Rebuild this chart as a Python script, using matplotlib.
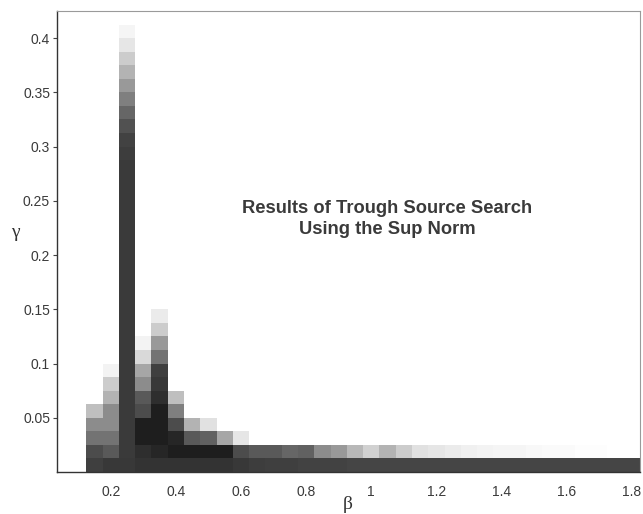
import numpy as np
import matplotlib
matplotlib.use("Agg")
import matplotlib.pyplot as plt

# bin layout (beta columns of width 0.05, gamma rows of height 0.0125)
beta_edges = np.round(np.arange(0.125, 1.8251, 0.05), 4)
gamma_edges = np.round(np.arange(0.0, 0.42501, 0.0125), 4)

# darkness of each cell (0 = white), read bottom-up per beta column
col_015 = [0.75, 0.70, 0.55, 0.45, 0.25]
col_020 = [0.78, 0.65, 0.55, 0.45, 0.45, 0.30, 0.20, 0.05]
col_025 = [0.78, 0.77, 0.77, 0.77, 0.77, 0.77, 0.77, 0.77, 0.77, 0.77,
           0.77, 0.77, 0.77, 0.77, 0.77, 0.77, 0.77, 0.77, 0.77, 0.77,
           0.77, 0.77, 0.77, 0.76, 0.74, 0.68, 0.60, 0.50, 0.40, 0.30,
           0.20, 0.10, 0.04]
col_030 = [0.80, 0.82, 0.88, 0.88, 0.70, 0.65, 0.45, 0.35, 0.15, 0.05]
col_035 = [0.80, 0.85, 0.88, 0.88, 0.88, 0.82, 0.78, 0.75, 0.55, 0.40,
           0.20, 0.08]
col_040 = [0.80, 0.88, 0.85, 0.70, 0.50, 0.25]
col_045 = [0.80, 0.88, 0.65, 0.30]
col_050 = [0.80, 0.88, 0.62, 0.12]
col_055 = [0.80, 0.88, 0.35]
col_060 = [0.78, 0.70, 0.10]
col_065 = [0.76, 0.65]
# long tail, beta = 0.70 ... 1.80
tail_row0 = [0.75, 0.75, 0.74, 0.74, 0.74, 0.73, 0.73, 0.73, 0.73, 0.73,
             0.73, 0.73, 0.73, 0.73, 0.73, 0.73, 0.73, 0.73, 0.73, 0.73,
             0.73, 0.73, 0.73]
tail_row1 = [0.65, 0.60, 0.62, 0.45, 0.40, 0.28, 0.18, 0.30, 0.20, 0.12,
             0.10, 0.08, 0.06, 0.05, 0.04, 0.04, 0.03, 0.02, 0.02, 0.01,
             0.01, 0.0, 0.0]

columns = [col_015, col_020, col_025, col_030, col_035, col_040,
           col_045, col_050, col_055, col_060, col_065]

Z = np.zeros((len(gamma_edges) - 1, len(beta_edges) - 1))
for j, col in enumerate(columns):
    Z[:len(col), j] = col
n0 = len(columns)
Z[0, n0:n0 + len(tail_row0)] = tail_row0
Z[1, n0:n0 + len(tail_row1)] = tail_row1

fig = plt.figure(figsize=(6.43, 5.14), dpi=100)
ax = fig.add_axes([0.0886, 0.0817, 0.9067, 0.8969])

ax.pcolormesh(beta_edges, gamma_edges, Z, cmap="gray_r", vmin=0, vmax=1,
              shading="flat")

ax.set_xlim(0.035, 1.825)
ax.set_ylim(0, 0.425)
ax.set_xticks([0.2, 0.4, 0.6, 0.8, 1.0, 1.2, 1.4, 1.6, 1.8])
ax.set_xticklabels(["0.2", "0.4", "0.6", "0.8", "1", "1.2", "1.4", "1.6", "1.8"])
ax.set_yticks([0.05, 0.1, 0.15, 0.2, 0.25, 0.3, 0.35, 0.4])
ax.set_yticklabels(["0.05", "0.1", "0.15", "0.2", "0.25", "0.3", "0.35", "0.4"])

for lab in ax.get_xticklabels() + ax.get_yticklabels():
    lab.set_fontfamily("Liberation Sans")
    lab.set_fontsize(10)
    lab.set_color("#3a3a3a")
ax.tick_params(axis="x", length=0, pad=9)
ax.tick_params(axis="y", direction="out", length=3, width=0.8,
               color="#444444", pad=2)

for side in ["left", "bottom"]:
    ax.spines[side].set_color("#333333")
    ax.spines[side].set_linewidth(1.0)
for side in ["top", "right"]:
    ax.spines[side].set_color("#9a9a9a")
    ax.spines[side].set_linewidth(0.8)

ax.set_xlabel("β", family="Liberation Serif", fontsize=14, color="#333333")
ax.xaxis.set_label_coords(0.499, -0.07)
ax.xaxis.label.set_va("center")
ax.set_ylabel("γ", family="Liberation Serif", fontsize=14, color="#333333",
              rotation=0, va="center", ha="center")
ax.yaxis.set_label_coords(-0.072, 0.52)

ax.text(1.05, 0.233, "Results of Trough Source Search\nUsing the Sup Norm",
        ha="center", va="center", fontsize=13.2, fontweight="bold",
        family="Liberation Sans", color="#3a3a3a", linespacing=1.3)

fig.savefig("out.png", dpi=100)
